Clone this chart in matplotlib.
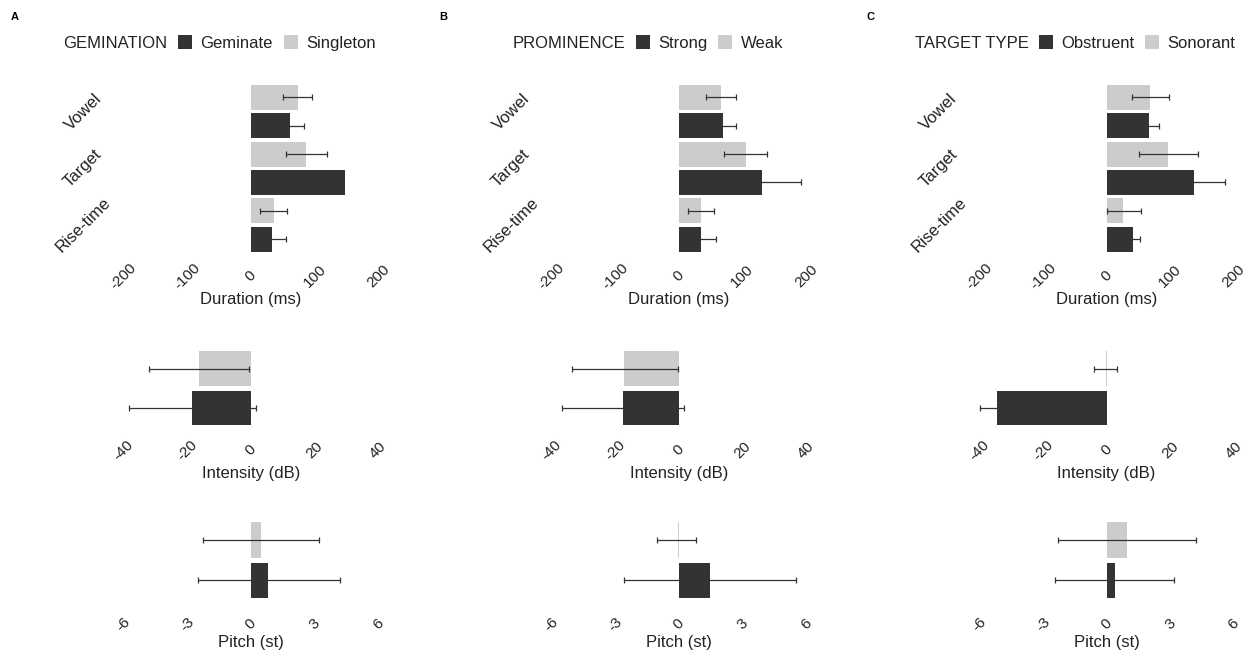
import numpy as np
import matplotlib
matplotlib.use('Agg')
import matplotlib.pyplot as plt
from matplotlib.patches import Patch

plt.rcParams['font.family'] = ['Liberation Sans', 'DejaVu Sans']

# categories and labels
measures = ['Vowel', 'Target', 'Rise-time']
panel_letters = ['A', 'B', 'C']
legend_titles = ['GEMINATION', 'PROMINENCE', 'TARGET TYPE']
dark_labels = ['Geminate', 'Strong', 'Obstruent']
light_labels = ['Singleton', 'Weak', 'Sonorant']

dur_ticks = [-200, -100, 0, 100, 200]
int_ticks = [-40, -20, 0, 20, 40]
pitch_ticks = [-6, -3, 0, 3, 6]

# duration (ms), one row per panel, order Vowel, Target, Rise-time
dur_dark = [[61.4, 148.0, 32.6], [69.3, 130.7, 35.0], [67.2, 138.0, 42.0]]
dur_dark_lo = [[40.5, 97.5, 10.0], [49.0, 69.0, 12.6], [51.0, 91.0, 34.0]]
dur_dark_hi = [[83.5, 100.5, 54.6], [90.0, 192.6, 58.7], [83.0, 186.0, 52.5]]
dur_light = [[73.5, 86.6, 36.2], [66.6, 105.0, 34.6], [68.2, 97.2, 26.3]]
dur_light_lo = [[51.0, 55.0, 14.0], [43.0, 71.0, 14.0], [40.5, 51.5, 0.0]]
dur_light_hi = [[95.6, 119.0, 56.0], [90.0, 138.6, 54.6], [98.0, 143.3, 54.0]]

# intensity (dB), one value per panel
int_dark = [-18.5, -17.6, -34.6]
int_dark_lo = [-38.4, -36.6, -39.9]
int_dark_hi = [1.5, 1.5, -29.2]
int_light = [-16.4, -17.1, -0.3]
int_light_lo = [-32.1, -33.7, -3.9]
int_light_hi = [-0.6, -0.4, 3.4]

# pitch (st), one value per panel
pitch_dark = [0.82, 1.48, 0.39]
pitch_dark_lo = [-2.49, -2.58, -2.44]
pitch_dark_hi = [4.2, 5.54, 3.2]
pitch_light = [0.47, -0.05, 0.94]
pitch_light_lo = [-2.25, -1.04, -2.31]
pitch_light_hi = [3.2, 0.8, 4.22]

DARK = '#333333'
LIGHT = '#cccccc'
W, H = 1250, 652

fig = plt.figure(figsize=(12.5, 6.52), dpi=100)


def add_px_axes(left, top, width, height):
    return fig.add_axes([left / W, 1 - (top + height) / H, width / W, height / H])


def draw_bars(ax, pos, vals, lo, hi, color):
    vals = np.asarray(vals)
    lo = np.asarray(lo)
    hi = np.asarray(hi)
    ax.barh(pos, vals, height=0.44, color=color, linewidth=0)
    ax.errorbar((lo + hi) / 2, pos, xerr=(hi - lo) / 2, fmt='none',
                ecolor='#333333', elinewidth=0.9, capsize=2.5, capthick=0.9)


def style_axis(ax, ticks, lim, label, label_y, pad):
    ax.set_xlim(-lim, lim)
    ax.set_xticks(ticks)
    # plain hyphen as minus sign, like the original
    ax.set_xticklabels([str(t) for t in ticks], rotation=45, ha='center',
                       va='center', rotation_mode='anchor', fontsize=11,
                       color='#222222')
    ax.tick_params(axis='both', length=0)
    ax.tick_params(axis='x', pad=pad)
    for s in ax.spines.values():
        s.set_visible(False)
    ax.set_xlabel(label, fontsize=12, color='#222222', va='center')
    ax.xaxis.set_label_coords(0.5, label_y)


for p in range(3):
    zero_x = 251 + p * 427.8
    left = zero_x - 140

    # duration
    ax = add_px_axes(left, 77.5, 280, 181.6)
    pos = np.arange(len(measures))
    draw_bars(ax, pos + 0.25, dur_dark[p], dur_dark_lo[p], dur_dark_hi[p], DARK)
    draw_bars(ax, pos - 0.25, dur_light[p], dur_light_lo[p], dur_light_hi[p], LIGHT)
    style_axis(ax, dur_ticks, 220, 'Duration (ms)', -40.5 / 181.6, 12.5)
    ax.set_ylim(2.6, -0.6)
    ax.set_yticks(pos)
    ax.set_yticklabels(measures, rotation=45, ha='center', va='center',
                       fontsize=12, color='#222222')
    ax.tick_params(axis='y', pad=20)

    # intensity
    ax = add_px_axes(left, 341, 280, 94.3)
    draw_bars(ax, [0.25], [int_dark[p]], [int_dark_lo[p]], [int_dark_hi[p]], DARK)
    draw_bars(ax, [-0.25], [int_light[p]], [int_light_lo[p]], [int_light_hi[p]], LIGHT)
    style_axis(ax, int_ticks, 44, 'Intensity (dB)', -38 / 94.3, 10.6)
    ax.set_ylim(0.6, -0.6)
    ax.set_yticks([])

    # pitch
    ax = add_px_axes(left, 511.6, 280, 97.2)
    draw_bars(ax, [0.25], [pitch_dark[p]], [pitch_dark_lo[p]], [pitch_dark_hi[p]], DARK)
    draw_bars(ax, [-0.25], [pitch_light[p]], [pitch_light_lo[p]], [pitch_light_hi[p]], LIGHT)
    style_axis(ax, pitch_ticks, 6.6, 'Pitch (st)', -34 / 97.2, 11)
    ax.set_ylim(0.6, -0.6)
    ax.set_yticks([])

    # panel letter
    fig.text((15 + p * 427.8) / W, 1 - 17 / H, panel_letters[p],
             fontsize=8, fontweight='bold', ha='center', va='center')

title_x = [63, 513, 915]
key_x = [178, 636, 1039]
for p in range(3):
    fig.text(title_x[p] / W, 1 - 43 / H, legend_titles[p], fontsize=12,
             color='#222222', ha='left', va='center')
    handles = [Patch(facecolor=DARK, label=dark_labels[p]),
               Patch(facecolor=LIGHT, label=light_labels[p])]
    fig.legend(handles=handles, loc='center left',
               bbox_to_anchor=(key_x[p] / W, 1 - 43 / H), ncol=2,
               frameon=False, fontsize=12, handlelength=0.84,
               handleheight=0.84, handletextpad=0.5, columnspacing=0.65,
               borderpad=0, borderaxespad=0, labelcolor='#222222')

fig.savefig('out.png', dpi=100)
